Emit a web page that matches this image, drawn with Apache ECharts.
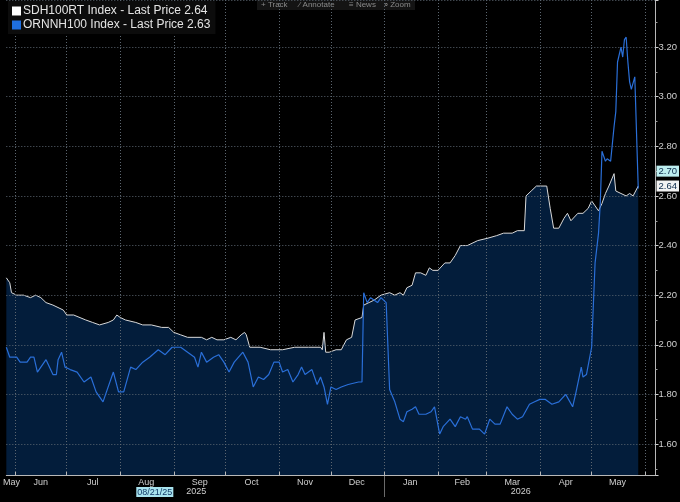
<!DOCTYPE html>
<html>
<head>
<meta charset="utf-8">
<script src="https://cdn.jsdelivr.net/npm/echarts@6/dist/echarts.min.js"></script>
<style>
html,body{margin:0;padding:0;background:#000;}
#chart{width:680px;height:502px;}
</style>
</head>
<body>
<div id="chart"></div>
<script>
// Axis range (daily categories)
const startDate = '2025-05-27';
const endDate = '2026-06-07';
const monthNames = ['Jan','Feb','Mar','Apr','May','Jun','Jul','Aug','Sep','Oct','Nov','Dec'];
// dates where month labels sit (centre of each month)
const monthLabelDates = ['2025-05-30','2025-06-16','2025-07-16','2025-08-16','2025-09-16','2025-10-16','2025-11-16','2025-12-16','2026-01-16','2026-02-15','2026-03-16','2026-04-16','2026-05-16'];
const yearLabelDates = {'2025-09-14':'2025','2026-03-21':'2026'};
const cursorDate = '2025-08-21';
const cursorText = '08/21/25';
const yearBreakDate = '2026-01-01';

const whiteName = 'SDH100RT Index - Last Price 2.64';
const blueName = 'ORNNH100 Index - Last Price 2.63';

const whiteDates = ['2025-05-27','2025-05-28','2025-05-29','2025-05-30','2025-06-02','2025-06-06','2025-06-10','2025-06-13','2025-06-16','2025-06-19','2025-06-23','2025-06-29','2025-07-01','2025-07-05','2025-07-12','2025-07-16','2025-07-20','2025-07-25','2025-07-28','2025-07-30','2025-08-01','2025-08-04','2025-08-10','2025-08-14','2025-08-19','2025-08-25','2025-08-29','2025-09-01','2025-09-05','2025-09-09','2025-09-17','2025-09-20','2025-09-23','2025-09-26','2025-09-30','2025-10-04','2025-10-07','2025-10-10','2025-10-12','2025-10-13','2025-10-15','2025-10-21','2025-10-27','2025-11-03','2025-11-10','2025-11-18','2025-11-25','2025-11-26','2025-11-27','2025-11-28','2025-11-30','2025-12-04','2025-12-07','2025-12-10','2025-12-13','2025-12-15','2025-12-19','2025-12-20','2025-12-23','2025-12-26','2025-12-30','2026-01-04','2026-01-07','2026-01-10','2026-01-12','2026-01-14','2026-01-17','2026-01-19','2026-01-22','2026-01-25','2026-01-27','2026-01-29','2026-02-01','2026-02-05','2026-02-08','2026-02-11','2026-02-14','2026-02-18','2026-02-24','2026-03-02','2026-03-07','2026-03-11','2026-03-16','2026-03-19','2026-03-23','2026-03-24','2026-03-27','2026-03-30','2026-04-05','2026-04-07','2026-04-09','2026-04-12','2026-04-15','2026-04-17','2026-04-19','2026-04-23','2026-04-26','2026-04-29','2026-05-01','2026-05-03','2026-05-05','2026-05-07','2026-05-09','2026-05-11','2026-05-14','2026-05-15','2026-05-18','2026-05-21','2026-05-23','2026-05-25','2026-05-28'];
const whiteValues = [2.27,2.27,2.25,2.21,2.20,2.20,2.19,2.20,2.19,2.17,2.16,2.14,2.12,2.12,2.10,2.09,2.08,2.09,2.10,2.12,2.11,2.10,2.09,2.08,2.08,2.07,2.07,2.05,2.04,2.03,2.03,2.02,2.03,2.02,2.02,2.03,2.02,2.04,2.05,2.04,1.99,1.99,1.98,1.98,1.99,1.99,1.99,1.98,2.05,1.97,1.97,1.98,1.98,2.02,2.03,2.10,2.11,2.16,2.17,2.18,2.20,2.21,2.20,2.21,2.20,2.23,2.24,2.29,2.29,2.28,2.31,2.30,2.30,2.33,2.33,2.36,2.40,2.40,2.42,2.43,2.44,2.45,2.45,2.46,2.46,2.60,2.62,2.64,2.64,2.55,2.47,2.47,2.51,2.53,2.50,2.53,2.53,2.55,2.58,2.56,2.54,2.57,2.61,2.64,2.69,2.62,2.61,2.60,2.61,2.60,2.64];

const blueDates = ['2025-05-27','2025-05-29','2025-06-02','2025-06-04','2025-06-08','2025-06-10','2025-06-12','2025-06-14','2025-06-16','2025-06-19','2025-06-23','2025-06-25','2025-06-26','2025-06-28','2025-06-30','2025-07-03','2025-07-07','2025-07-11','2025-07-15','2025-07-18','2025-07-22','2025-07-24','2025-07-28','2025-07-31','2025-08-03','2025-08-07','2025-08-10','2025-08-14','2025-08-18','2025-08-23','2025-08-27','2025-08-31','2025-09-05','2025-09-09','2025-09-13','2025-09-15','2025-09-17','2025-09-20','2025-09-24','2025-09-27','2025-09-30','2025-10-03','2025-10-06','2025-10-11','2025-10-14','2025-10-17','2025-10-20','2025-10-23','2025-10-26','2025-10-29','2025-11-01','2025-11-03','2025-11-06','2025-11-09','2025-11-12','2025-11-14','2025-11-16','2025-11-20','2025-11-23','2025-11-25','2025-11-27','2025-11-29','2025-12-01','2025-12-04','2025-12-07','2025-12-11','2025-12-17','2025-12-19','2025-12-20','2025-12-22','2025-12-24','2025-12-28','2025-12-30','2026-01-02','2026-01-04','2026-01-07','2026-01-10','2026-01-12','2026-01-14','2026-01-17','2026-01-19','2026-01-21','2026-01-25','2026-01-28','2026-01-30','2026-02-02','2026-02-04','2026-02-08','2026-02-11','2026-02-14','2026-02-17','2026-02-18','2026-02-21','2026-02-25','2026-02-28','2026-03-03','2026-03-06','2026-03-09','2026-03-13','2026-03-16','2026-03-19','2026-03-22','2026-03-26','2026-03-29','2026-04-01','2026-04-04','2026-04-08','2026-04-12','2026-04-16','2026-04-20','2026-04-22','2026-04-25','2026-04-26','2026-04-28','2026-05-01','2026-05-03','2026-05-05','2026-05-06','2026-05-07','2026-05-09','2026-05-10','2026-05-12','2026-05-14','2026-05-15','2026-05-16','2026-05-18','2026-05-19','2026-05-20','2026-05-21','2026-05-22','2026-05-23','2026-05-24','2026-05-26','2026-05-28'];
const blueValues = [1.99,1.95,1.95,1.93,1.93,1.95,1.95,1.89,1.91,1.94,1.88,1.88,1.94,1.97,1.91,1.90,1.89,1.85,1.87,1.81,1.77,1.81,1.89,1.81,1.81,1.91,1.90,1.93,1.95,1.98,1.96,1.99,1.99,1.97,1.95,1.91,1.97,1.93,1.95,1.96,1.93,1.89,1.93,1.97,1.93,1.83,1.87,1.86,1.88,1.93,1.93,1.89,1.90,1.85,1.88,1.91,1.88,1.90,1.84,1.87,1.83,1.76,1.83,1.82,1.83,1.84,1.85,1.85,2.21,2.17,2.19,2.17,2.19,2.17,1.82,1.77,1.70,1.69,1.73,1.74,1.75,1.72,1.72,1.73,1.75,1.64,1.67,1.70,1.67,1.71,1.70,1.71,1.66,1.66,1.64,1.70,1.68,1.68,1.75,1.72,1.70,1.71,1.76,1.77,1.78,1.78,1.76,1.77,1.80,1.75,1.81,1.91,1.87,1.88,1.99,2.33,2.45,2.57,2.78,2.74,2.75,2.74,2.88,2.94,3.14,3.20,3.16,3.23,3.24,3.14,3.06,3.03,3.08,2.63];

const lastLabels = [{value: 2.70, bg: '#bdeef0', color: '#0b2a4a'}, {value: 2.64, bg: '#f2f2f2', color: '#0b2a4a'}];

// build daily categories
function fmt(d){ return d.toISOString().slice(0,10); }
const categories = [];
for (let d = new Date(startDate + 'T00:00:00Z'); fmt(d) <= endDate; d.setUTCDate(d.getUTCDate()+1)) {
  categories.push(fmt(d));
}
const idx = {};
categories.forEach((c,i)=>{ idx[c]=i; });
const whiteData = whiteDates.map((d,i)=>[idx[d], whiteValues[i]]);
const blueData = blueDates.map((d,i)=>[idx[d], blueValues[i]]);

const gridColor = '#5c6670';

const chart = echarts.init(document.getElementById('chart'));
chart.setOption({
  backgroundColor: '#000',
  animation: false,
  textStyle: {fontFamily: 'Liberation Sans'},
  legend: {
    orient: 'vertical', left: 8, top: 1,
    padding: [4, 5, 3, 4],
    backgroundColor: '#0c0c0c',
    itemWidth: 9, itemHeight: 9, itemGap: 2,
    icon: 'rect',
    textStyle: {color: '#e4e4e4', fontSize: 12, padding: [0,0,0,-3]},
    data: [whiteName, blueName],
    selectedMode: false
  },
  grid: {left: 3, right: 24, top: 0, bottom: 27, containLabel: false},
  xAxis: [{
    type: 'category', data: categories, boundaryGap: false, position: 'bottom', z: 3,
    axisLine: {show: true, lineStyle: {color: '#b8b8b8', width: 1}},
    axisTick: {show: true, inside: true, length: 3, lineStyle: {color: '#b8b8b8'},
      interval: (i, v) => v.slice(8) === '01'},
    splitLine: {show: true, lineStyle: {color: gridColor, type: [1, 2], width: 1},
      interval: (i, v) => v.slice(8) === '01'},
    axisLabel: {show: true, color: '#d0d0d0', fontSize: 9, margin: 3,
      interval: (i, v) => monthLabelDates.indexOf(v) >= 0,
      formatter: v => monthNames[parseInt(v.slice(5,7),10)-1]}
  }, {
    type: 'category', data: categories, boundaryGap: false, position: 'bottom',
    axisLine: {show: false},
    axisTick: {show: true, length: 22, lineStyle: {color: '#6a6a6a'},
      interval: (i, v) => v === yearBreakDate},
    splitLine: {show: false},
    axisLabel: {show: true, color: '#d0d0d0', fontSize: 9, margin: 12,
      interval: (i, v) => (v in yearLabelDates) || v === cursorDate,
      formatter: v => v === cursorDate ? '{c|' + cursorText + '}' : yearLabelDates[v],
      rich: {c: {backgroundColor: '#a9e3ee', color: '#123a66', fontSize: 9, padding: [1,1,0,1]}}}
  }],
  yAxis: {
    type: 'value', position: 'right', min: 1.475, max: 3.39, splitNumber: 10, scale: true, z: 3,
    axisLine: {show: true, lineStyle: {color: '#b8b8b8'}},
    axisTick: {show: true, length: 3, lineStyle: {color: '#d0d0d0'}},
    minorTick: {show: true, splitNumber: 2, length: 2, lineStyle: {color: '#9a9a9a'}},
    splitLine: {show: true, lineStyle: {color: gridColor, type: [1, 2]}},
    axisLabel: {color: '#d0d0d0', fontSize: 9.5, margin: 3, showMinLabel: false, showMaxLabel: false,
      formatter: v => v.toFixed(2)}
  },
  series: [{
    name: whiteName, type: 'line', data: whiteData, xAxisIndex: 0,
    showSymbol: false, symbol: 'none', z: 2,
    color: '#ffffff',
    lineStyle: {color: '#d9d9d9', width: 1},
    areaStyle: {color: '#031d3b', opacity: 1},
    emphasis: {disabled: true},
    markLine: {
      silent: true, symbol: 'none', z: 6,
      lineStyle: {width: 0, color: 'rgba(0,0,0,0)'},
      data: lastLabels.map(l => ({yAxis: l.value,
        label: {show: true, position: 'end', distance: 1, formatter: p => p.value.toFixed(2),
          backgroundColor: l.bg, color: l.color, fontSize: 9.5, padding: [1, 2, 0, 2], opacity: 1}}))
    }
  }, {
    name: blueName, type: 'line', data: blueData, xAxisIndex: 0,
    showSymbol: false, symbol: 'none', z: 4,
    color: '#1f6fe0',
    lineStyle: {color: '#2a6fd8', width: 1.2},
    emphasis: {disabled: true}
  }],
  graphic: [{
    type: 'group', left: 257, top: 0,
    children: [
      {type: 'rect', shape: {x: 0, y: 0, width: 158, height: 10}, style: {fill: '#141414'}},
      {type: 'text', x: 4, y: 1, style: {text: '+ Track', fill: '#8a8a8a', font: '8px Liberation Sans'}},
      {type: 'text', x: 42, y: 1, style: {text: '⁄ Annotate', fill: '#8a8a8a', font: '8px Liberation Sans'}},
      {type: 'text', x: 92, y: 1, style: {text: '≡ News', fill: '#8a8a8a', font: '8px Liberation Sans'}},
      {type: 'text', x: 127, y: 1, style: {text: '⌕ Zoom', fill: '#8a8a8a', font: '8px Liberation Sans'}}
    ]
  }]
});
</script>
</body>
</html>
